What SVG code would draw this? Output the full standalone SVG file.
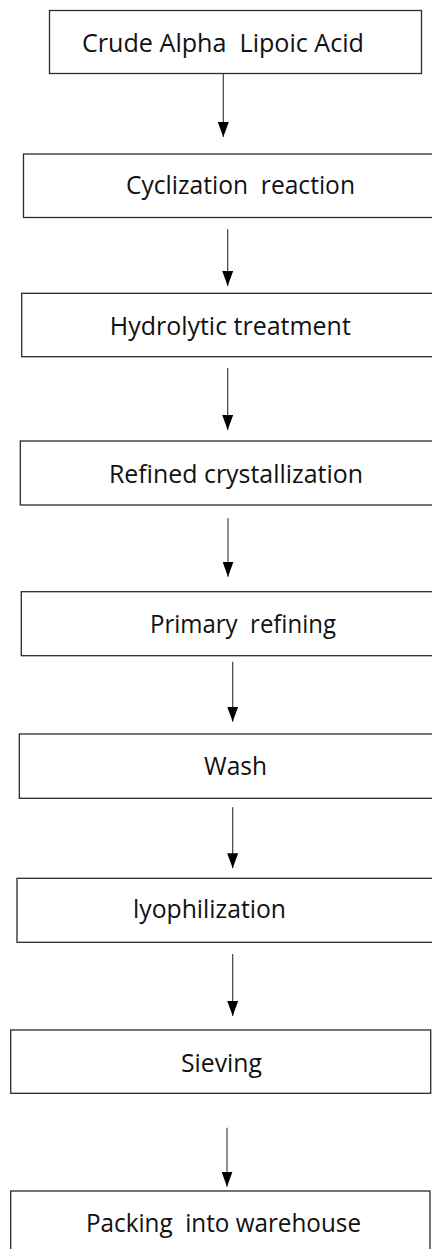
<svg xmlns="http://www.w3.org/2000/svg" width="432" height="1249" viewBox="0 0 432 1249">
<style>
.box{fill:#fff;stroke:#2a2a2a;stroke-width:1.3}
.lbl{font-family:"Open Sans","Noto Sans",sans-serif;font-size:25px;fill:#111;text-anchor:middle}
.conn{stroke:#333;stroke-width:1.1;fill:none;marker-end:url(#ah)}
</style>
<defs>
<marker id="ah" markerUnits="userSpaceOnUse" markerWidth="15" markerHeight="11" viewBox="0 0 15 11" refX="15" refY="5.5" orient="auto">
<path d="M0,0 L15,5.5 L0,11 z" fill="#000"/>
</marker>
</defs>
<rect width="432" height="1249" fill="#fff"/>
<g id="node1"><rect class="box" x="49.5" y="10.5" width="372" height="63"/><text class="lbl" x="223" y="52" textLength="282" lengthAdjust="spacingAndGlyphs" xml:space="preserve">Crude Alpha  Lipoic Acid</text></g>
<g id="node2"><rect class="box" x="23.5" y="154" width="420" height="63.5"/><text class="lbl" x="240.5" y="194" textLength="229" lengthAdjust="spacingAndGlyphs" xml:space="preserve">Cyclization  reaction</text></g>
<g id="node3"><rect class="box" x="21.7" y="293.3" width="420" height="63.4"/><text class="lbl" x="230.3" y="335" textLength="241" lengthAdjust="spacingAndGlyphs">Hydrolytic treatment</text></g>
<g id="node4"><rect class="box" x="20.3" y="441" width="420" height="64"/><text class="lbl" x="236" y="483" textLength="254" lengthAdjust="spacingAndGlyphs">Refined crystallization</text></g>
<g id="node5"><rect class="box" x="21.3" y="591.7" width="420" height="64"/><text class="lbl" x="243" y="633" textLength="186" lengthAdjust="spacingAndGlyphs" xml:space="preserve">Primary  refining</text></g>
<g id="node6"><rect class="box" x="19.3" y="734" width="420" height="64.3"/><text class="lbl" x="235.5" y="775" textLength="63" lengthAdjust="spacingAndGlyphs">Wash</text></g>
<g id="node7"><rect class="box" x="17" y="878.3" width="420" height="64"/><text class="lbl" x="209.5" y="918" textLength="153" lengthAdjust="spacingAndGlyphs">lyophilization</text></g>
<g id="node8"><rect class="box" x="10.7" y="1030" width="420" height="63.3"/><text class="lbl" x="221.5" y="1071.5" textLength="81" lengthAdjust="spacingAndGlyphs">Sieving</text></g>
<g id="node9"><rect class="box" x="10.7" y="1191" width="419.3" height="70"/><text class="lbl" x="223.5" y="1232" textLength="275" lengthAdjust="spacingAndGlyphs" xml:space="preserve">Packing  into warehouse</text></g>
<g id="connectors">
<line class="conn" x1="223.3" y1="73.5" x2="223.3" y2="137"/>
<line class="conn" x1="227.7" y1="229.3" x2="227.7" y2="286"/>
<line class="conn" x1="227.7" y1="368" x2="227.7" y2="430"/>
<line class="conn" x1="228" y1="518.3" x2="228" y2="576.7"/>
<line class="conn" x1="232.7" y1="661.7" x2="232.7" y2="721.7"/>
<line class="conn" x1="232.7" y1="807.3" x2="232.7" y2="868.3"/>
<line class="conn" x1="232.7" y1="954" x2="232.7" y2="1016"/>
<line class="conn" x1="227" y1="1127.7" x2="227" y2="1186.7"/>
</g>
</svg>
